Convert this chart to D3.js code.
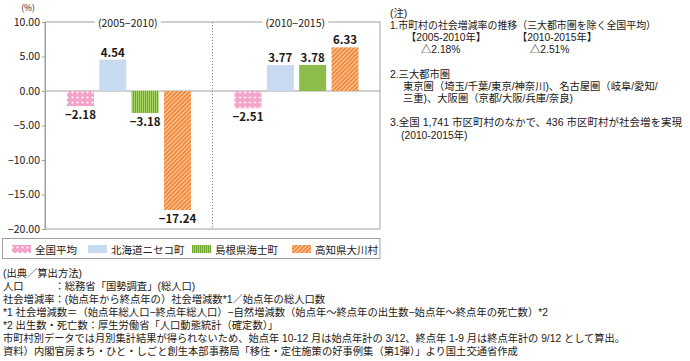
<!DOCTYPE html>
<html><head><meta charset="utf-8">
<script src="https://cdn.jsdelivr.net/npm/d3@7"></script>
<style>
body{margin:0;background:#fff;}
text{font-family:"Noto Sans CJK JP","Noto Sans",sans-serif;fill:#231815;}
text.blk{font-family:"Liberation Sans","Noto Sans CJK JP",sans-serif;}
</style></head>
<body><svg id="c" width="690" height="361"></svg>
<script>
const categories = ["全国平均","北海道ニセコ町","島根県海士町","高知県大川村"];
const periods = ["(2005−2010)","(2010−2015)"];
const values2005 = [-2.18, 4.54, -3.18, -17.24];
const values2010 = [-2.51, 3.77, 3.78, 6.33];
const yTicks = [10,5,0,-5,-10,-15,-20];
const notes = [
  "(注)",
  "1.市町村の社会増減率の推移（三大都市圏を除く全国平均）",
  "【2005-2010年】|【2010-2015年】",
  "△2.18%|△2.51%",
  "",
  "2.三大都市圏",
  "東京圏（埼玉/千葉/東京/神奈川)、名古屋圏（岐阜/愛知/",
  "三重)、大阪圏（京都/大阪/兵庫/奈良)",
  "",
  "3.全国 1,741 市区町村のなかで、436 市区町村が社会増を実現",
  "(2010-2015年)"
];
const sources = [
  "(出典／算出方法)",
  "人口　　　：総務省「国勢調査」(総人口)",
  "社会増減率：(始点年から終点年の）社会増減数*1／始点年の総人口数",
  "*1 社会増減数＝（始点年総人口−終点年総人口）−自然増減数（始点年〜終点年の出生数−始点年〜終点年の死亡数）*2",
  "*2 出生数・死亡数：厚生労働省「人口動態統計（確定数）」",
  "市町村別データでは月別集計結果が得られないため、始点年 10-12 月は始点年計の 3/12、終点年 1-9 月は終点年計の 9/12 として算出。",
  "資料）内閣官房まち・ひと・しごと創生本部事務局「移住・定住施策の好事例集（第1弾）」より国土交通省作成"
];
const seriesByPeriod = [values2005, values2010];

const svg = d3.select("#c");
const L=45, R=380, T=22, B=229;
const y = d3.scaleLinear().domain([-20,10]).range([B,T]);
const x0 = d3.scaleBand().domain(periods).range([L,R]);
const x1 = d3.scaleBand().domain(categories).range([22,146]).paddingInner(0.165);
const fmt = d3.format(".2f");

// patterns
const defs = svg.append("defs");
const pDot = defs.append("pattern").attr("id","pDot").attr("patternUnits","userSpaceOnUse").attr("width",5).attr("height",5);
pDot.append("rect").attr("width",5).attr("height",5).attr("fill","#f3a3c9");
pDot.append("circle").attr("cx",2.5).attr("cy",2.5).attr("r",1.1).attr("fill","#fff");
const pStr = defs.append("pattern").attr("id","pStr").attr("patternUnits","userSpaceOnUse").attr("width",2).attr("height",4);
pStr.append("rect").attr("width",2).attr("height",4).attr("fill","#a9d466");
pStr.append("rect").attr("width",1).attr("height",4).attr("fill","#6ea52f");
const pDia = defs.append("pattern").attr("id","pDia").attr("patternUnits","userSpaceOnUse").attr("width",3).attr("height",3).attr("patternTransform","rotate(45)");
pDia.append("rect").attr("width",3).attr("height",3).attr("fill","#f28a3c");
pDia.append("rect").attr("width",1).attr("height",3).attr("fill","#fbd2b0");
const fills = ["url(#pDot)","#c7daf1","url(#pStr)","url(#pDia)"];

// frame
svg.append("rect").attr("x",L).attr("y",T).attr("width",R-L).attr("height",B-T).attr("fill","none").attr("stroke","#a0a0a0").attr("stroke-width",1);
svg.append("line").attr("x1",x0(periods[1])).attr("x2",x0(periods[1])).attr("y1",T).attr("y2",B).attr("stroke","#888").attr("stroke-dasharray","1.2,1.8");
svg.append("line").attr("x1",L).attr("x2",R).attr("y1",y(0)).attr("y2",y(0)).attr("stroke","#a0a0a0");

// y axis
const ax = svg.append("g").attr("transform",`translate(${L},0)`)
  .call(d3.axisLeft(y).tickValues(yTicks).tickFormat(fmt).tickSize(3).tickPadding(2));
ax.select(".domain").attr("stroke","#a0a0a0");
ax.selectAll(".tick line").attr("stroke","#a0a0a0");
ax.selectAll("text").style("font-size","10.5px").attr("fill","#231815");
svg.append("text").attr("x",28).attr("y",7).attr("text-anchor","middle").attr("dominant-baseline","central").style("font-size","8.5px").text("(%)");

// group labels
periods.forEach(p=>{
  const cx = x0(p)+x0.bandwidth()/2-1;
  svg.append("rect").attr("x",cx-33).attr("y",T-1).attr("width",66).attr("height",2).attr("fill","#fff");
  svg.append("text").attr("x",cx).attr("y",T).attr("text-anchor","middle").attr("dominant-baseline","central").style("font-size","10.5px").text(p);
});

// bars
periods.forEach((p,pi)=>{
  const g = svg.append("g").attr("transform",`translate(${x0(p)},0)`);
  const data = categories.map((c,i)=>({c,i,v:seriesByPeriod[pi][i]}));
  g.selectAll("rect").data(data).join("rect")
    .attr("x",d=>x1(d.c)).attr("width",x1.bandwidth())
    .attr("y",d=>y(Math.max(0,d.v))).attr("height",d=>Math.abs(y(d.v)-y(0)))
    .attr("fill",d=>fills[d.i]);
  g.selectAll("text.v").data(data).join("text").attr("class","v")
    .attr("x",d=>x1(d.c)+x1.bandwidth()/2)
    .attr("y",d=>d.v>=0? y(d.v)-8 : y(d.v)+8)
    .attr("text-anchor","middle").attr("dominant-baseline","central")
    .style("font-size","11.5px").style("font-weight","bold").text(d=>fmt(d.v));
});

// legend
svg.append("rect").attr("x",2.5).attr("y",238.5).attr("width",377.5).attr("height",20).attr("fill","none").attr("stroke","#a0a0a0");
const legX = [12,88,192,292];
categories.forEach((c,i)=>{
  svg.append("rect").attr("x",legX[i]).attr("y",245).attr("width",19).attr("height",8).attr("fill",fills[i]);
  svg.append("text").attr("x",legX[i]+23).attr("y",249).attr("dominant-baseline","central").style("font-size","10.5px").text(c);
});

// notes
const noteY0 = 13, noteDY = 12.2;
const noteLen = {1:266, 9:292};
notes.forEach((n,i)=>{
  if(!n) return;
  const yy = noteY0 + i*noteDY + 3.6;
  let xs;
  if(i===2){ xs=[406,517]; }
  else if(i===3){ xs=[421,530]; }
  else if(i===6||i===7){ xs=[403]; }
  else if(i===10){ xs=[401]; }
  else xs=[390];
  n.split("|").forEach((s,k)=>{
    const ts = svg.append("text").attr("class","blk").style("font-size","10.3px").attr("x",xs[k]).attr("y",yy).text(s);
    if(noteLen[i]) ts.attr("textLength",noteLen[i]).attr("lengthAdjust","spacingAndGlyphs");
  });
});

// sources
sources.forEach((s,i)=>{
  const ts = svg.append("text").attr("class","blk").style("font-size","10.3px").attr("x",3).attr("y",273+i*13+3.6).text(s);
  if(i===5) ts.attr("textLength",622).attr("lengthAdjust","spacingAndGlyphs");
});
</script></body></html>
